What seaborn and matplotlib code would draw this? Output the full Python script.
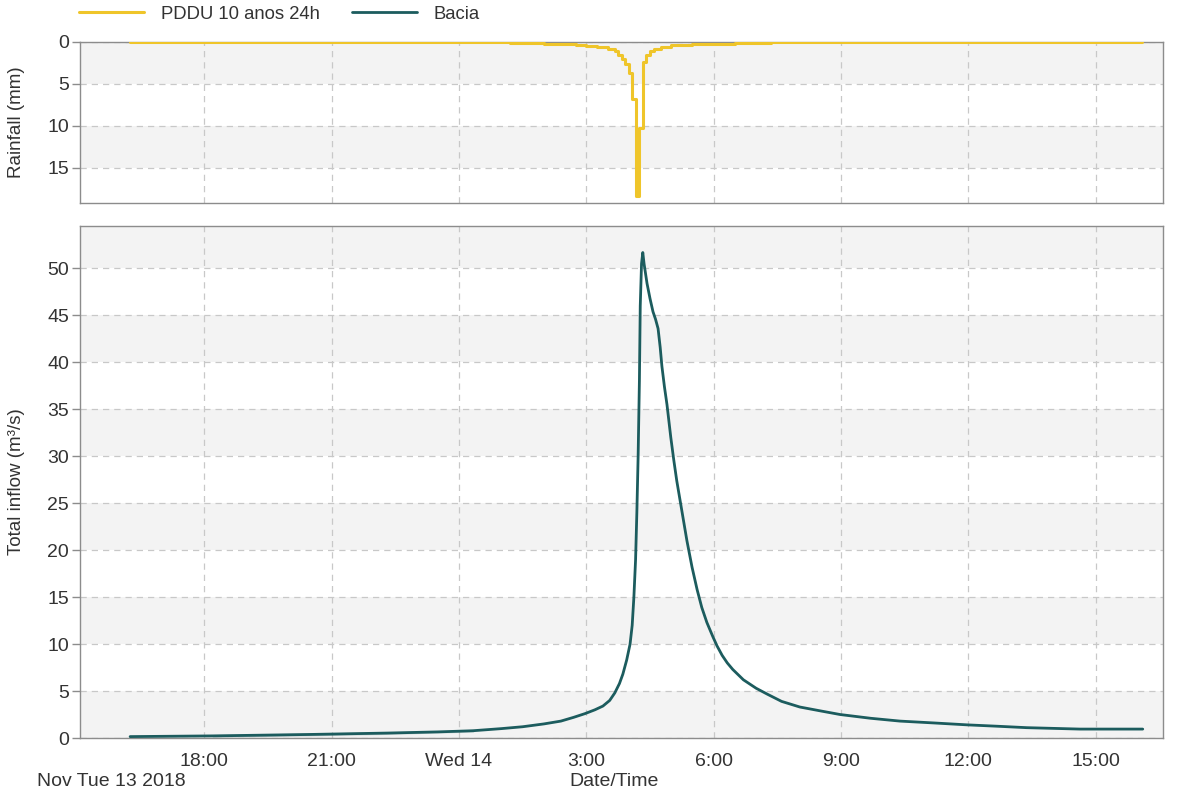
import pandas as pd
import numpy as np
import matplotlib
matplotlib.use('Agg')
import matplotlib.pyplot as plt
import seaborn as sns

REF = pd.Timestamp('2018-11-14 00:00')

# rainfall hyetograph: block start (hours from Wed 14 00:00) and depth (mm)
rain_hours = [-7.75, 1.2, 2.0, 2.75, 3.0, 3.25, 3.5, 3.667, 3.75, 3.833, 3.917, 4.0, 4.083,
              4.167, 4.25, 4.333, 4.417, 4.5, 4.583, 4.75, 5.0, 5.5, 6.5, 7.35, 16.1]
rain_mm = [0.05, 0.15, 0.25, 0.35, 0.45, 0.6, 0.8, 1.1, 1.5, 2.0, 2.6, 3.7, 6.8,
           18.3, 10.2, 2.4, 1.5, 1.1, 0.8, 0.6, 0.4, 0.25, 0.15, 0.05, 0.05]

# total inflow at the catchment outlet (hours from Wed 14 00:00, m3/s)
flow_hours = [-7.75, -5.8, -5.8, -3.55, -3.55, -1.7, -1.7, -0.5, -0.5, 0.33, 0.33,
              1.0, 1.5, 2.0, 2.4, 2.7, 2.97, 3.2, 3.39, 3.55, 3.67, 3.78, 3.86, 3.95,
              4.03, 4.08, 4.12, 4.16, 4.19, 4.22, 4.25, 4.27, 4.30, 4.33,
              4.36, 4.43, 4.50, 4.57, 4.63, 4.69, 4.74, 4.78, 4.84, 4.90, 4.99,
              5.06, 5.13, 5.25, 5.37, 5.49, 5.61, 5.72, 5.84, 5.98, 6.08, 6.2,
              6.32, 6.45, 6.7, 7.0, 7.25, 7.6, 8.03, 8.5, 8.98, 9.7, 10.39, 11.2,
              11.97, 12.7, 13.38, 14.63, 16.11]
flow_cms = [0.15, 0.15, 0.3, 0.3, 0.45, 0.45, 0.6, 0.6, 0.7, 0.7, 0.85,
            1.0, 1.2, 1.5, 1.8, 2.2, 2.6, 3.0, 3.4, 4.0, 4.8, 5.8, 6.8, 8.3,
            10.0, 12.0, 15.0, 19.0, 24.0, 30.0, 38.0, 46.0, 50.5, 51.7,
            50.5, 48.4, 46.8, 45.4, 44.6, 43.6, 41.6, 39.6, 37.4, 35.5, 32.0,
            29.6, 27.4, 24.2, 21.0, 18.2, 15.8, 13.9, 12.3, 10.8, 9.8, 8.8,
            8.0, 7.3, 6.2, 5.3, 4.7, 3.9, 3.3, 2.9, 2.5, 2.1, 1.8, 1.6,
            1.4, 1.25, 1.1, 0.95, 0.95]

tick_hours = [-6, -3, 0, 3, 6, 9, 12, 15]
tick_labels = ['18:00', '21:00', 'Wed 14', '3:00', '6:00', '9:00', '12:00', '15:00']

rain = pd.DataFrame({'time': REF + pd.to_timedelta(rain_hours, unit='h'), 'mm': rain_mm})
flow = pd.DataFrame({'time': REF + pd.to_timedelta(flow_hours, unit='h'), 'q': flow_cms})
ticks = REF + pd.to_timedelta(tick_hours, unit='h')

sns.set_style('white')
plt.rcParams['font.family'] = ['Liberation Sans', 'DejaVu Sans']

YELLOW = '#efc52a'
TEAL = '#1c5c5e'
GRID = '#c8c8c8'
BAND = '#f3f3f3'
SPINE = '#8c8c8c'
TXT = '#333333'
FS = 14

fig = plt.figure(figsize=(11.84, 7.91), dpi=100)
ax_r = fig.add_axes([0.0676, 0.743, 0.9144, 0.204])
ax_q = fig.add_axes([0.0676, 0.067, 0.9144, 0.647])

xmin = REF + pd.Timedelta(hours=-8.93)
xmax = REF + pd.Timedelta(hours=16.58)


def style_axes(ax, ymax, step):
    ax.set_facecolor('white')
    for lo in np.arange(0, ymax, 2 * step):
        ax.axhspan(lo, min(lo + step, ymax), color=BAND, zorder=0, lw=0)
    ax.grid(True, color=GRID, ls=(0, (5, 4)), lw=0.9)
    ax.set_axisbelow(True)
    for s in ax.spines.values():
        s.set_color(SPINE)
        s.set_linewidth(1.0)
    ax.tick_params(axis='both', colors=SPINE, labelcolor=TXT, labelsize=FS,
                   length=6, width=1, direction='out', pad=2)
    ax.tick_params(axis='y', left=True, length=6)
    ax.set_xlim(xmin, xmax)
    ax.set_xticks(ticks)


sns.lineplot(data=rain, x='time', y='mm', ax=ax_r, color=YELLOW, lw=2.2,
             drawstyle='steps-post', label='PDDU 10 anos 24h', legend=False, zorder=3)
style_axes(ax_r, 19.2, 5)
ax_r.set_ylim(19.2, 0)
ax_r.set_yticks([0, 5, 10, 15])
ax_r.set_xticklabels([])
ax_r.tick_params(axis='x', length=0)
ax_r.set_xlabel('')
ax_r.set_ylabel('Rainfall (mm)', fontsize=13.5, color=TXT)
ax_r.yaxis.set_label_coords(-0.051, 0.5)

sns.lineplot(data=flow, x='time', y='q', ax=ax_q, color=TEAL, lw=2.0,
             label='Bacia', legend=False, zorder=3)
style_axes(ax_q, 54.5, 5)
ax_q.set_ylim(0, 54.5)
ax_q.set_yticks(range(0, 55, 5))
ax_q.set_xticklabels(tick_labels)
ax_q.tick_params(axis='x', length=10, pad=1)
ax_q.set_xlabel('')
ax_q.set_ylabel('Total inflow (m³/s)', fontsize=13.5, color=TXT)
ax_q.yaxis.set_label_coords(-0.051, 0.5)

fig.text(0.519, 0.012, 'Date/Time', ha='center', va='center', fontsize=FS, color=TXT)
fig.text(0.031, 0.012, 'Nov Tue 13 2018', ha='left', va='center', fontsize=FS, color=TXT)

handles = ax_r.get_lines()[:1] + ax_q.get_lines()[:1]
fig.legend(handles, ['PDDU 10 anos 24h', 'Bacia'], loc='center left',
           bbox_to_anchor=(0.053, 0.982), ncol=2, frameon=False, fontsize=13.3,
           handlelength=3.5, columnspacing=1.75, handletextpad=0.9, labelcolor=TXT)

fig.savefig('out.png', dpi=100)
